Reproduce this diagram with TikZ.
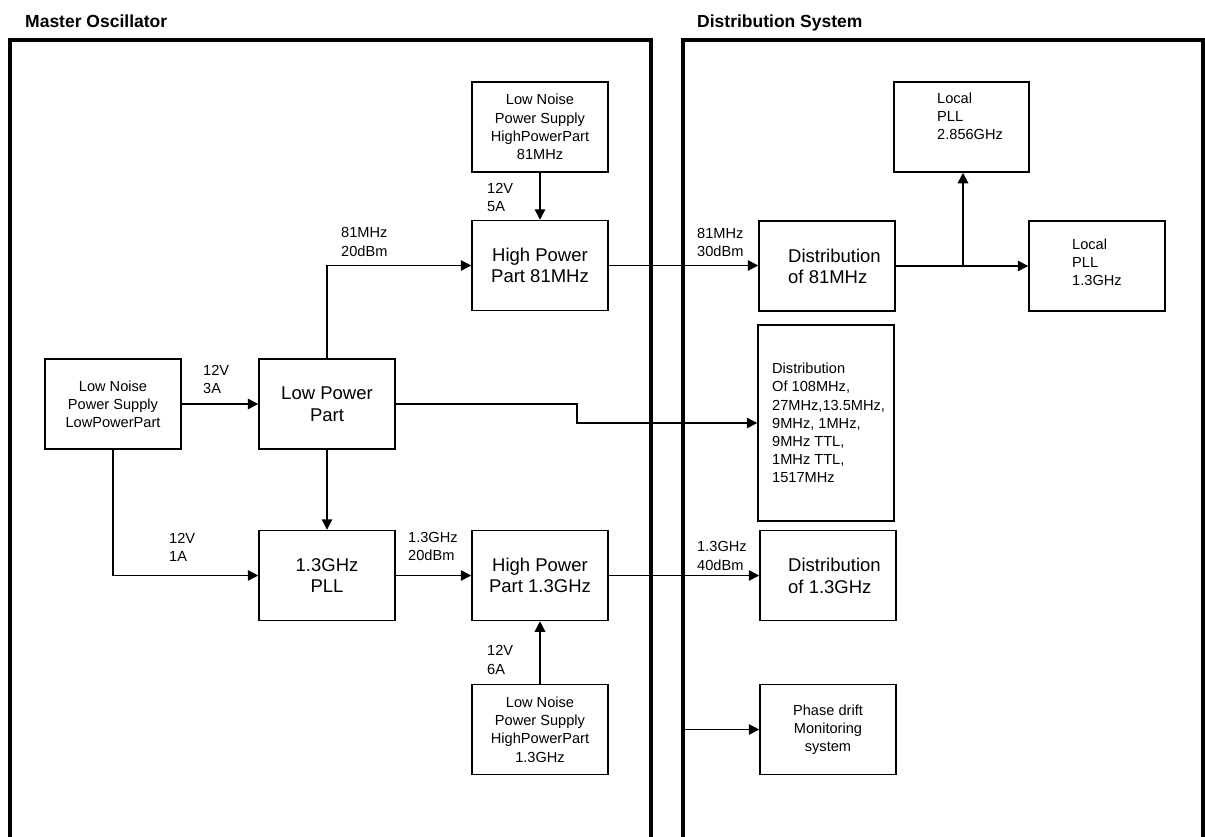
\documentclass[tikz,border=0pt]{standalone}
\usepackage{fontspec}
\setmainfont{Liberation Sans}
\usetikzlibrary{arrows.meta}
\begin{document}
\begin{tikzpicture}[x=1pt,y=-1pt,
  box/.style={draw, line width=1.5pt, inner sep=0pt, minimum width=136pt, minimum height=90pt, align=center},
  small/.style={font=\fontsize{14.6}{18.2}\selectfont},
  big/.style={font=\fontsize{18.5}{21.7}\selectfont},
  lbl/.style={small, align=left, anchor=west, inner sep=0pt},
  blbl/.style={big, align=left, anchor=west, inner sep=0pt},
  conn/.style={line width=1.5pt},
  arr/.style={conn, -{Triangle[length=10.5pt,width=10.5pt]}},
  frame/.style={line width=4pt, line join=miter},
  title/.style={font=\fontsize{17.5}{21}\selectfont\bfseries, anchor=base west, inner sep=0pt}]
\useasboundingbox (0,0) rectangle (1205,836);

% titles
\node[title] (t1) at (25,27) {Master Oscillator};
\node[title] (t2) at (697,27) {Distribution System};

% frames
\draw[frame] (10,840) -- (10,40) -- (651,40) -- (651,840);
\draw[frame] (683,840) -- (683,40) -- (1203,40) -- (1203,840);
\coordinate (fr) at (683,729.5);

% master oscillator boxes
\node[box, small] (lnhp81) at (540,127) {Low Noise\\Power Supply\\HighPowerPart\\81MHz};
\node[box, big] (hp81) at (540,265.5) {High Power\\Part 81MHz};
\node[box, small] (lnlp) at (113,404) {Low Noise\\Power Supply\\LowPowerPart};
\node[box, big] (lpp) at (327,404) {Low Power\\Part};
\node[box, big] (pll) at (327,575.5) {1.3GHz\\PLL};
\node[box, big] (hp13) at (540,575.5) {High Power\\Part 1.3GHz};
\node[box, small] (lnhp13) at (540,729.5) {Low Noise\\Power Supply\\HighPowerPart\\1.3GHz};

% distribution boxes
\node[box] (d81) at (827,266) {};
\node[box, minimum width=135pt] (lp2856) at (961.5,127) {};
\node[box] (lp13) at (1097,266) {};
\node[box, minimum height=196pt] (d108) at (826,423) {};
\node[box] (d13) at (828,575.5) {};
\node[box, small] (pdm) at (828,729.5) {Phase drift\\Monitoring\\system};

% texts inside distribution boxes
\node[blbl] (d81t) at (788,266.5) {Distribution\\of 81MHz};
\node[blbl] (d13t) at (788,576) {Distribution\\of 1.3GHz};
\node[lbl] (lp2856t) at (937,116) {Local\\PLL\\2.856GHz};
\node[lbl] (lp13t) at (1072,262) {Local\\PLL\\1.3GHz};
\node[lbl] (d108t) at (772,423) {Distribution\\Of 108MHz,\\27MHz,13.5MHz,\\9MHz, 1MHz,\\9MHz TTL,\\1MHz TTL,\\1517MHz};

% connector labels
\node[lbl] (l1) at (487,197.5) {12V\\5A};
\node[lbl] (l2) at (341,242) {81MHz\\20dBm};
\node[lbl] (l3) at (697,242.5) {81MHz\\30dBm};
\node[lbl] (l4) at (203,379.5) {12V\\3A};
\node[lbl] (l5) at (169,547) {12V\\1A};
\node[lbl] (l6) at (408,546.5) {1.3GHz\\20dBm};
\node[lbl] (l7) at (697,556) {1.3GHz\\40dBm};
\node[lbl] (l8) at (487,660) {12V\\6A};

% connectors
\draw[arr] (lnhp81) -- (hp81);
\draw[arr] (lnhp13) -- (hp13);
\draw[arr] (hp81.east) -- (hp81.east -| d81.west);
\draw[arr] (d81.east) -- (d81.east -| lp13.west);
\coordinate (br) at (963,266);
\draw[arr] (br) -- (br |- lp2856.south);
\draw[arr] (lnlp.east) -- (lpp.west);
\draw[arr] (lnlp.south) |- (pll.west);
\draw[arr] (lpp.south) -- (pll.north);
\draw[arr] (lpp.north) |- (hp81.west);
\draw[arr] (pll.east) -- (hp13.west);
\draw[arr] (hp13.east) -- (hp13.east -| d13.west);
\draw[arr] (lpp.east) -- ++(181,0) |- (d108.west);
\draw[arr] (fr) -- (pdm.west);
\end{tikzpicture}
\end{document}
